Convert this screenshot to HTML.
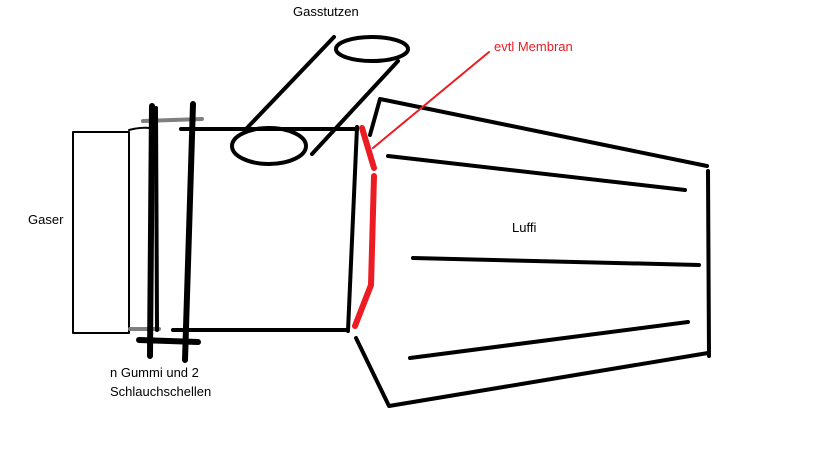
<!DOCTYPE html>
<html><head><meta charset="utf-8"><style>
html,body{margin:0;padding:0;background:#fff;width:819px;height:460px;overflow:hidden}
svg{display:block}
text{font-family:"Liberation Sans","DejaVu Sans",sans-serif;font-size:13px}
</style></head><body>
<svg width="819" height="460" viewBox="0 0 819 460" xmlns="http://www.w3.org/2000/svg">
<g fill="none" stroke="#000" stroke-linecap="round" stroke-linejoin="round">
<rect x="73" y="132" width="56" height="201" stroke-width="2"/>
<path d="M129 130 Q140 127 150 128" stroke-width="2"/>
<line x1="143" y1="121" x2="202" y2="119" stroke="#7f7f7f" stroke-width="4"/>
<line x1="130" y1="329" x2="159" y2="329" stroke="#7f7f7f" stroke-width="4"/>
<line x1="152" y1="106" x2="150" y2="356" stroke-width="6"/>
<line x1="156" y1="108" x2="157" y2="330" stroke-width="4"/>
<line x1="193" y1="104" x2="185" y2="360" stroke-width="6"/>
<line x1="139" y1="340" x2="198" y2="342" stroke-width="6"/>
<line x1="181" y1="129" x2="357" y2="129" stroke-width="4"/>
<line x1="173" y1="330" x2="348" y2="330" stroke-width="4"/>
<line x1="357" y1="127" x2="348" y2="331" stroke-width="4"/>
<ellipse cx="269" cy="146" rx="37" ry="18" stroke-width="4"/>
<ellipse cx="372" cy="49" rx="36" ry="12" stroke-width="4"/>
<line x1="334" y1="37" x2="247" y2="128" stroke-width="4"/>
<line x1="398" y1="61" x2="312" y2="154" stroke-width="4"/>
<polyline points="370,135 380,99 707,166" stroke-width="4"/>
<line x1="708" y1="171" x2="709" y2="356" stroke-width="4"/>
<polyline points="356,338 389,406 708,353" stroke-width="4"/>
<line x1="388" y1="156" x2="685" y2="190" stroke-width="4"/>
<line x1="413" y1="258" x2="699" y2="265" stroke-width="4"/>
<line x1="410" y1="358" x2="688" y2="322" stroke-width="4"/>
<line x1="362" y1="128" x2="374" y2="168" stroke="#ed1c24" stroke-width="6"/>
<polyline points="374,176 371,285 355,326" stroke="#ed1c24" stroke-width="6"/>
<line x1="373" y1="148" x2="489" y2="52" stroke="#ed1c24" stroke-width="2"/>
</g>
<text x="293" y="16" fill="#000">Gasstutzen</text>
<text x="494" y="51" fill="#ed1c24">evtl Membran</text>
<text x="28" y="224" fill="#000">Gaser</text>
<text x="512" y="232" fill="#000">Luffi</text>
<text x="110" y="377" fill="#000">n Gummi und 2</text>
<text x="110" y="396" fill="#000">Schlauchschellen</text>
</svg>
</body></html>
